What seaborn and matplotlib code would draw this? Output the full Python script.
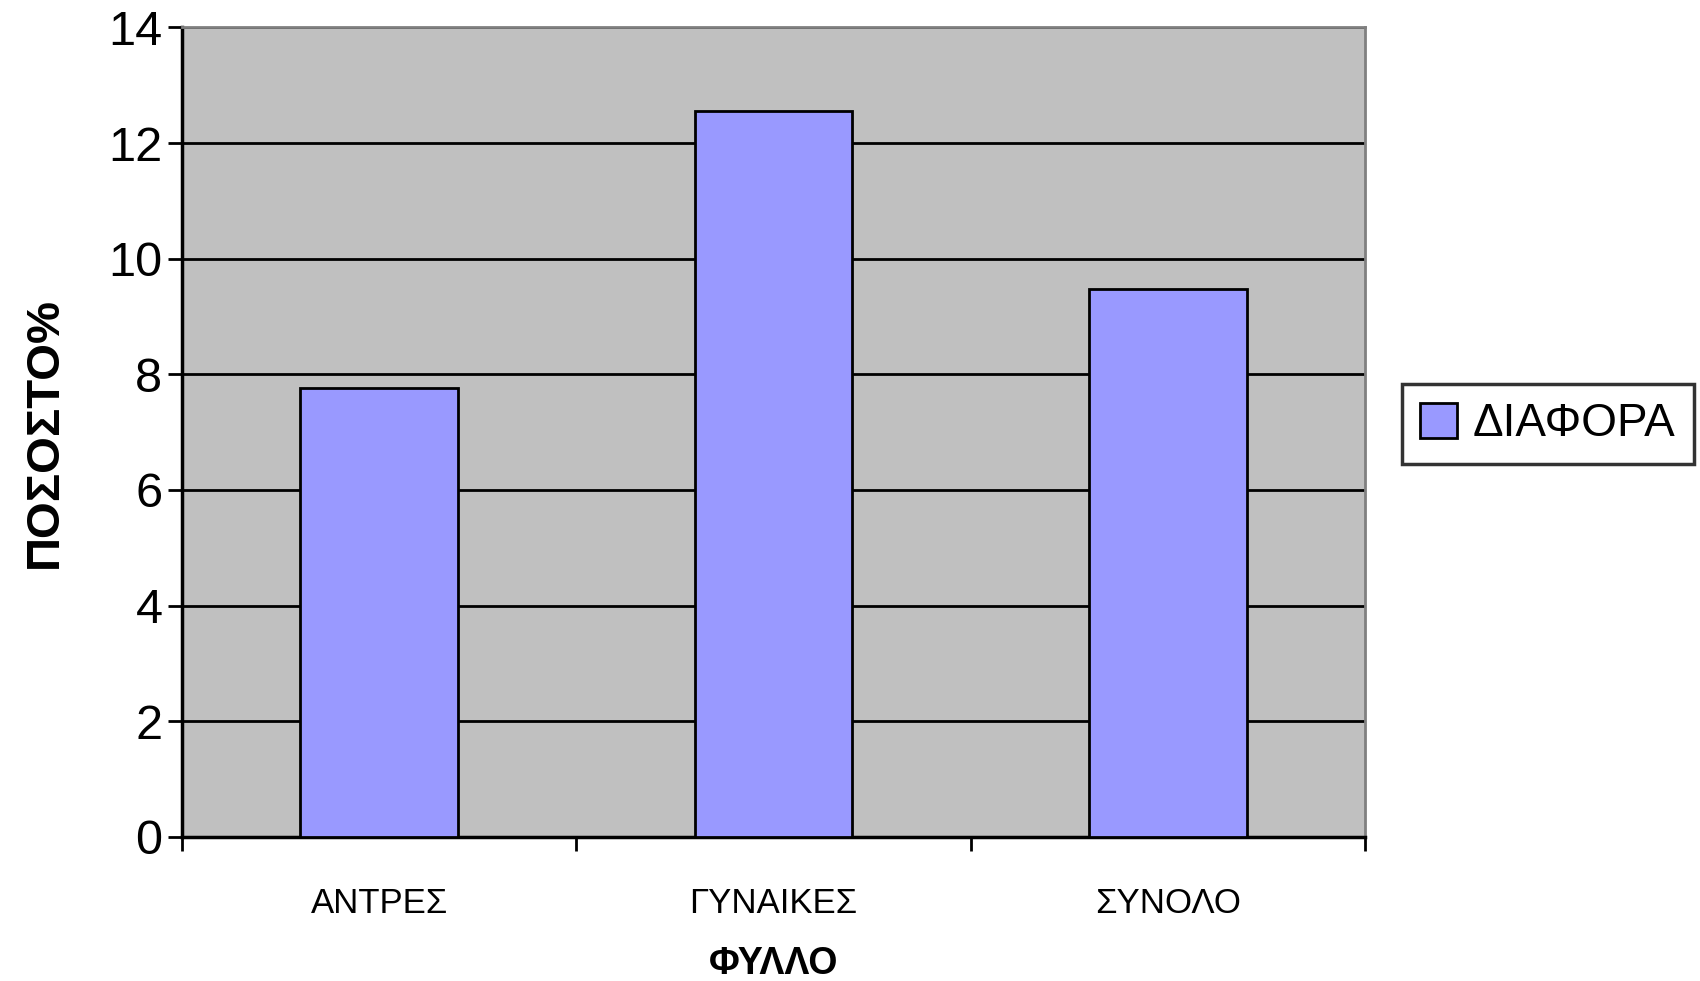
import matplotlib
matplotlib.use("Agg")
import matplotlib.pyplot as plt
import seaborn as sns
import pandas as pd

categories = ["ΑΝΤΡΕΣ", "ΓΥΝΑΙΚΕΣ", "ΣΥΝΟΛΟ"]
values = [7.77, 12.55, 9.47]
series_name = "ΔΙΑΦΟΡΑ"

df = pd.DataFrame({"ΦΥΛΛΟ": categories, "value": values, "series": series_name})

sns.set_theme(style="white")
plt.rcParams["font.family"] = ["Liberation Sans", "DejaVu Sans"]
plt.rcParams["text.color"] = "black"
plt.rcParams["axes.labelcolor"] = "black"
plt.rcParams["xtick.color"] = "black"
plt.rcParams["ytick.color"] = "black"

fig = plt.figure(figsize=(17, 9.81), dpi=100)
ax = fig.add_axes([0.107, 0.147, 0.696, 0.825])
ax.set_facecolor("#C0C0C0")

sns.barplot(data=df, x="ΦΥΛΛΟ", y="value", hue="series", palette=["#9999FF"],
            width=0.4, edgecolor="black", linewidth=2, saturation=1, ax=ax, zorder=3)

ax.set_ylim(0, 14)
ax.set_xlim(-0.5, 2.5)
ax.set_yticks(range(0, 15, 2))
ax.yaxis.grid(True, color="black", linewidth=2, zorder=1)
ax.set_axisbelow(True)

ax.tick_params(axis="y", labelsize=35, length=10, width=2, direction="out", left=True, pad=4)
ax.set_xticks(range(len(categories)))
ax.set_xticklabels(categories, fontsize=25)
ax.tick_params(axis="x", which="major", length=0, pad=36)
ax.set_xticks([-0.5, 0.5, 1.5, 2.5], minor=True)
ax.tick_params(axis="x", which="minor", length=10, width=2, bottom=True)

for side in ["left", "bottom"]:
    ax.spines[side].set_color("black")
    ax.spines[side].set_linewidth(2.5)
for side in ["top", "right"]:
    ax.spines[side].set_color("#808080")
    ax.spines[side].set_linewidth(2)

ax.set_xlabel("ΦΥΛΛΟ", fontsize=27, fontweight="bold", labelpad=19)
ax.set_ylabel("ΠΟΣΟΣΤΟ%", fontsize=34, fontweight="bold", labelpad=30)

leg = ax.legend(loc="center left", bbox_to_anchor=(1.031, 0.51), fontsize=33,
                frameon=True, fancybox=False, edgecolor="black", handlelength=0.8,
                handleheight=0.8, handletextpad=0.35, borderpad=0.4, borderaxespad=0)
leg.get_frame().set_linewidth(2.5)

fig.savefig("out.png", dpi=100)
